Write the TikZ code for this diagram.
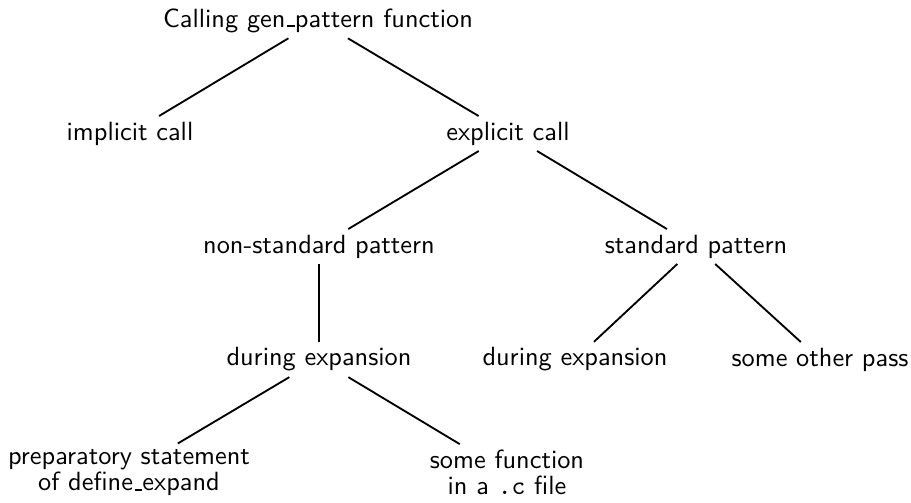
\documentclass[tikz,border=0pt]{standalone}
\newcommand\uscore{\leavevmode\kern.06em\vbox{\hrule width.3em height .7pt}}
\tikzset{
  lbl/.style={font=\sffamily, inner sep=2pt, align=center},
  edge/.style={line width=0.7pt},
}
\begin{document}
\begin{tikzpicture}[x=0.3797pt,y=-0.3797pt]
\useasboundingbox (0,0) rectangle (911,502);
\node[lbl] (root) at (318,20.5) {Calling gen\uscore pattern function};
\node[lbl] (impl) at (130,133.5) {implicit call};
\node[lbl] (expl) at (508,133.5) {explicit call};
\node[lbl] (nonstd) at (319,246.5) {non-standard pattern};
\node[lbl] (std) at (696,246.5) {standard pattern};
\node[lbl] (durl) at (319,359.5) {during expansion};
\node[lbl] (durr) at (575,359.5) {during expansion};
\node[lbl] (other) at (820,359.5) {some other pass};
\node[lbl] (prep) at (129,472.5) {preparatory statement\\[-2pt]of define\uscore expand};
\node[lbl] (func) at (507,472.5) {some function\\[-2pt]in a \texttt{.c} file};
\draw[edge] (root) -- (impl);
\draw[edge] (root) -- (expl);
\draw[edge] (expl) -- (nonstd);
\draw[edge] (expl) -- (std);
\draw[edge] (nonstd) -- (durl);
\draw[edge] (std) -- (durr);
\draw[edge] (std) -- (other);
\draw[edge] (durl) -- (prep);
\draw[edge] (durl) -- (func);
\end{tikzpicture}
\end{document}
